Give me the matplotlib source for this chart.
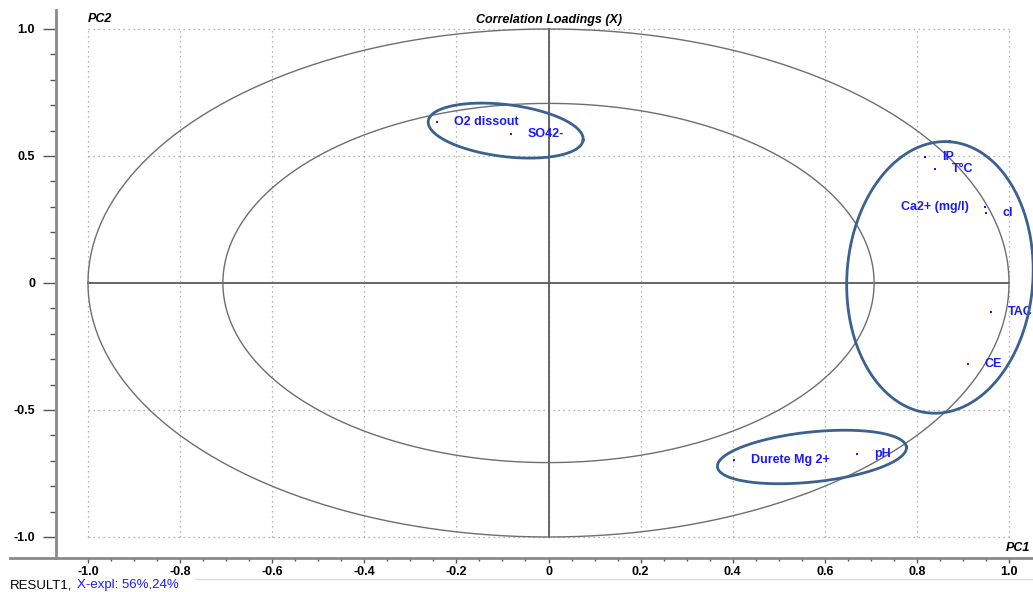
import numpy as np
import matplotlib
matplotlib.use("Agg")
import matplotlib.pyplot as plt
from matplotlib.lines import Line2D

plt.rcParams['font.family'] = ['Liberation Sans', 'DejaVu Sans']

# ---- data ----
variables = ["O2 dissout", "SO42-", "IP", "T°C", "Ca2+ (mg/l)", "cl", "TAC", "CE", "Durete Mg 2+", "pH"]
pc1 = [-0.242, -0.081, 0.818, 0.839, 0.948, 0.950, 0.961, 0.911, 0.403, 0.670]
pc2 = [0.634, 0.587, 0.496, 0.449, 0.299, 0.276, -0.114, -0.319, -0.697, -0.673]
xticks = [-1.0, -0.8, -0.6, -0.4, -0.2, 0.0, 0.2, 0.4, 0.6, 0.8, 1.0]
xticklabels = ["-1.0", "-0.8", "-0.6", "-0.4", "-0.2", "0", "0.2", "0.4", "0.6", "0.8", "1.0"]
yticks = [-1.0, -0.5, 0.0, 0.5, 1.0]
yticklabels = ["-1.0", "-0.5", "0", "0.5", "1.0"]
explained = "X-expl: 56%,24%"

W, H = 1033, 592
fig = plt.figure(figsize=(W / 100, H / 100), dpi=100)
ax_l, ax_r, ax_t, ax_b = 56, 1033, 10, 558
ax = fig.add_axes([ax_l / W, (H - ax_b) / H, (ax_r - ax_l) / W, (ax_b - ax_t) / H])
xlim = (-1.0695, 1.0521)
ylim = (-1.0827, 1.0748)
ax.set_xlim(*xlim)
ax.set_ylim(*ylim)
sx = (ax_r - ax_l) / (xlim[1] - xlim[0])
sy = (ax_b - ax_t) / (ylim[1] - ylim[0])

blue = '#1a1aff'
grid_c = '#9a9a9a'

# grid (dotted), bounded to [-1, 1]
for v in xticks:
    ax.plot([v, v], [-1, 1], linestyle=(0, (1, 3)), color=grid_c, lw=0.9, zorder=1)
for v in [-1.0, -0.5, 0.5, 1.0]:
    ax.plot([-1, 1], [v, v], linestyle=(0, (1, 3)), color=grid_c, lw=0.9, zorder=1)
# zero lines
ax.plot([0, 0], [-1, 1], color='#5a5a5a', lw=1.3, zorder=2)
ax.plot([-1, 1], [0, 0], color='#5a5a5a', lw=1.3, zorder=2)

# correlation circles (100% and 50%)
t = np.linspace(0, 2 * np.pi, 400)
for r in [1.0, np.sqrt(0.5)]:
    ax.plot(r * np.cos(t), r * np.sin(t), color='#6e6e6e', lw=1.0, zorder=2)

# points and labels
ax.scatter(pc1, pc2, s=4, marker='s', color=blue, zorder=4, linewidths=0)
for name, x, y in zip(variables, pc1, pc2):
    if name.startswith("Ca2+"):
        ax.annotate(name, (x, y), xytext=(-11.5, 0), textcoords='offset points',
                    ha='right', va='center', color=blue, fontsize=9, fontweight='bold', zorder=5)
    else:
        ax.annotate(name, (x, y), xytext=(12, 0), textcoords='offset points',
                    ha='left', va='center', color=blue, fontsize=9, fontweight='bold', zorder=5)

# highlight ellipses (drawn in pixel geometry)
def ellipse(cx, cy, a, b, ang):
    ph = np.deg2rad(ang)
    dx = a * np.cos(t) * np.cos(ph) - b * np.sin(t) * np.sin(ph)
    dy = a * np.cos(t) * np.sin(ph) + b * np.sin(t) * np.cos(ph)
    ax.plot(cx + dx / sx, cy + dy / sy, color='#3a6190', lw=2.0, zorder=6, clip_on=False)

ellipse(-0.093, 0.600, 78, 26, -7)
ellipse(0.850, 0.022, 136, 93, 86)
ellipse(0.572, -0.685, 95, 25, 6)

# axes styling
for s in ['top', 'right']:
    ax.spines[s].set_visible(False)
for s in ['left', 'bottom']:
    ax.spines[s].set_color('#8a8a8a')
    ax.spines[s].set_linewidth(2)

ax.set_xticks(xticks)
ax.set_xticklabels(xticklabels, fontsize=9, fontweight='bold')
ax.set_xticks(np.arange(-1.0, 1.0001, 0.05), minor=True)
ax.set_yticks(yticks)
ax.set_yticklabels(yticklabels, fontsize=9, fontweight='bold')
ax.set_yticks(np.arange(-1.0, 1.0001, 0.1), minor=True)
ax.tick_params(axis='y', which='major', length=9.5, width=1, color='#555555', pad=5.5)
ax.tick_params(axis='y', which='minor', length=4.3, width=1, color='#555555')
ax.tick_params(axis='x', which='major', length=3.5, width=1, color='#555555', pad=2)
ax.tick_params(axis='x', which='minor', length=1.8, width=1, color='#555555')
ax.set_facecolor('none')

# texts
ax.text(-1.0, 1.0 + 10 / sy, "PC2", fontsize=9, fontweight='bold', style='italic',
        ha='left', va='center', transform=ax.transData)
fig.text(1030 / W, (H - 548) / H, "PC1", fontsize=9, fontweight='bold', style='italic',
         ha='right', va='center')
fig.text(548.5 / W, (H - 20) / H, "Correlation Loadings (X)", fontsize=9, fontweight='bold',
         style='italic', ha='center', va='center')
fig.text(10 / W, (H - 585) / H, "RESULT1,", fontsize=9.5, ha='left', va='center', color='black')
fig.text(77 / W, (H - 585) / H, explained, fontsize=9.5, ha='left', va='center', color=blue)

# extra frame lines
fig.add_artist(Line2D([10 / W, 57 / W], [(H - 558) / H] * 2, color='#8a8a8a', lw=2))
fig.add_artist(Line2D([195 / W, 1.0], [(H - 579) / H] * 2, color='#dddddd', lw=1))

fig.savefig("out.png", dpi=100)
